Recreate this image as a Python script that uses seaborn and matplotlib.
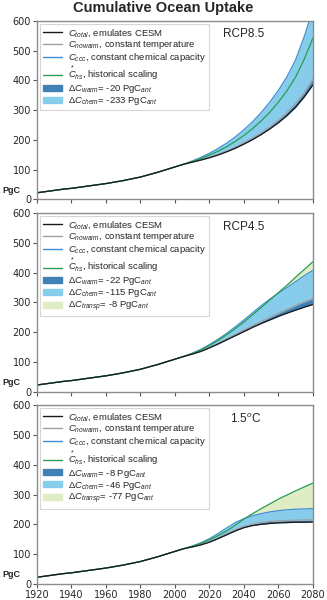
import numpy as np
import pandas as pd
import matplotlib
matplotlib.use("Agg")
import matplotlib.pyplot as plt
import seaborn as sns
from matplotlib.patches import Patch

years = list(range(1920, 2081, 5))
# shared historical part 1920..2000
hist = [22, 26, 30, 34, 37, 41, 45, 49, 53, 58, 63, 69, 75, 83, 91, 100, 109]

scenarios = ["RCP8.5", "RCP4.5", "1.5$^{o}$C"]

# projected part 2005..2080 (5-yearly)
total = {
    "RCP8.5": [118, 125, 132, 140, 149, 160, 172, 186, 201, 218, 237, 258, 282, 310, 345, 385],
    "RCP4.5": [118, 126, 135, 147, 160, 174, 188, 202, 216, 229, 241, 253, 264, 274, 284, 293],
    "1.5$^{o}$C": [118, 124, 131, 140, 152, 165, 178, 189, 196, 200, 203, 205, 206, 207, 207, 208],
}
nowarm = {
    "RCP8.5": [118, 125, 133, 141, 151, 162, 175, 190, 206, 224, 244, 267, 293, 323, 360, 405],
    "RCP4.5": [118, 126, 136, 148, 162, 177, 192, 207, 222, 236, 250, 264, 277, 290, 302, 313],
    "1.5$^{o}$C": [118, 125, 132, 142, 154, 168, 182, 193, 201, 207, 210, 212, 213, 214, 215, 215],
}
ccc = {
    "RCP8.5": [118, 129, 141, 155, 171, 189, 210, 234, 261, 292, 327, 367, 413, 470, 548, 640],
    "RCP4.5": [118, 129, 142, 158, 176, 196, 218, 241, 265, 289, 311, 331, 350, 370, 390, 408],
    "1.5$^{o}$C": [118, 127, 138, 152, 169, 188, 206, 219, 229, 236, 242, 246, 249, 251, 252, 253],
}
hs = {
    "RCP8.5": [118, 127, 137, 149, 162, 177, 195, 215, 238, 264, 293, 327, 366, 412, 472, 543],
    "RCP4.5": [118, 128, 140, 155, 172, 191, 212, 234, 258, 283, 308, 333, 358, 385, 411, 437],
    "1.5$^{o}$C": [118, 126, 136, 148, 162, 178, 197, 218, 236, 253, 269, 285, 299, 313, 326, 339],
}
d_warm = {"RCP8.5": -20, "RCP4.5": -22, "1.5$^{o}$C": -8}
d_chem = {"RCP8.5": -233, "RCP4.5": -115, "1.5$^{o}$C": -46}
d_transp = {"RCP8.5": None, "RCP4.5": -8, "1.5$^{o}$C": -77}

series_names = ["total", "nowarm", "ccc", "hs"]
series_colors = {"total": "#1a1a1a", "nowarm": "#a0a0a0",
                 "ccc": "#3d8ed2", "hs": "#2a9d50"}
series_labels = {
    "total": r"$C_{total}$, emulates CESM",
    "nowarm": r"$C_{nowarm}$, constant temperature",
    "ccc": r"$C_{ccc}$, constant chemical capacity",
    "hs": r"$\overset{*}{C}_{hs}$, historical scaling",
}
warm_col = "#3f80b5"
chem_col = "#87cdeb"
transp_col = "#e0edc4"

sns.set_style("ticks")
plt.rcParams["font.family"] = ["DejaVu Sans"]
plt.rcParams["mathtext.fontset"] = "custom"
plt.rcParams["mathtext.rm"] = "Liberation Sans"
plt.rcParams["mathtext.it"] = "Liberation Sans:italic"
plt.rcParams["mathtext.bf"] = "Liberation Sans:bold"

fig, axes = plt.subplots(3, 1, figsize=(3.27, 6.0), dpi=100, sharex=True)
fig.subplots_adjust(left=0.113, right=0.957, top=0.965, bottom=0.027, hspace=0.078)

for ax, sc in zip(axes, scenarios):
    vals = {
        "total": hist + total[sc],
        "nowarm": hist + nowarm[sc],
        "ccc": hist + ccc[sc],
        "hs": hist + hs[sc],
    }
    yr = np.array(years)
    t = np.array(vals["total"], dtype=float)
    nw = np.array(vals["nowarm"], dtype=float)
    cc = np.array(vals["ccc"], dtype=float)
    h = np.array(vals["hs"], dtype=float)

    ax.fill_between(yr, t, nw, color=warm_col, lw=0)
    ax.fill_between(yr, nw, cc, color=chem_col, lw=0)
    if d_transp[sc] is not None:
        ax.fill_between(yr, cc, h, where=h >= cc, interpolate=True,
                        color=transp_col, lw=0)

    df = pd.DataFrame({
        "year": np.tile(yr, 4),
        "value": np.concatenate([vals[s] for s in series_names]),
        "series": np.repeat(series_names, len(yr)),
    })
    sns.lineplot(data=df, x="year", y="value", hue="series",
                 hue_order=["nowarm", "ccc", "hs", "total"],
                 palette=series_colors, lw=0.9, ax=ax, legend=False)

    handles = [plt.Line2D([], [], color=series_colors[s], lw=1.0,
                          label=series_labels[s]) for s in series_names]
    handles.append(Patch(color=warm_col,
                         label=r"$\Delta C_{warm}$= %d PgC$_{ant}$" % d_warm[sc]))
    handles.append(Patch(color=chem_col,
                         label=r"$\Delta C_{chem}$= %d PgC$_{ant}$" % d_chem[sc]))
    if d_transp[sc] is not None:
        handles.append(Patch(color=transp_col,
                             label=r"$\Delta C_{transp}$= %d PgC$_{ant}$" % d_transp[sc]))
    leg = ax.legend(handles=handles, loc="upper left", frameon=True,
                    prop={"family": "Liberation Sans", "size": 6.8},
                    labelspacing=0.0, handlelength=2.1, handleheight=0.6,
                    handletextpad=0.6, borderpad=0.3, borderaxespad=0.3,
                    fancybox=False, edgecolor="#cccccc")
    leg.get_frame().set_linewidth(0.8)

    ax.text(0.675 if "RCP" in sc else 0.70, 0.925, sc, transform=ax.transAxes,
            fontsize=8.5, family="Liberation Sans", va="center")
    ax.text(-0.092, 0.05, "PgC", transform=ax.transAxes, fontsize=6.5,
            family="Liberation Sans", fontweight="bold", ha="center", va="center")

    ax.set_xlim(1920, 2080)
    ax.set_ylim(0, 600)
    ax.set_yticks([0, 100, 200, 300, 400, 500, 600])
    ax.set_xticks(range(1920, 2081, 20))
    ax.set_xlabel("")
    ax.set_ylabel("")
    ax.tick_params(labelsize=7, length=3, color="#555555", pad=1.2)
    for sp in ax.spines.values():
        sp.set_color("#8c8c8c")
        sp.set_linewidth(1.0)

fig.suptitle("Cumulative Ocean Uptake", x=0.5, y=0.987, va="center",
             fontsize=10.5, fontweight="bold", family="Liberation Sans")

fig.savefig("out.png", dpi=100)
